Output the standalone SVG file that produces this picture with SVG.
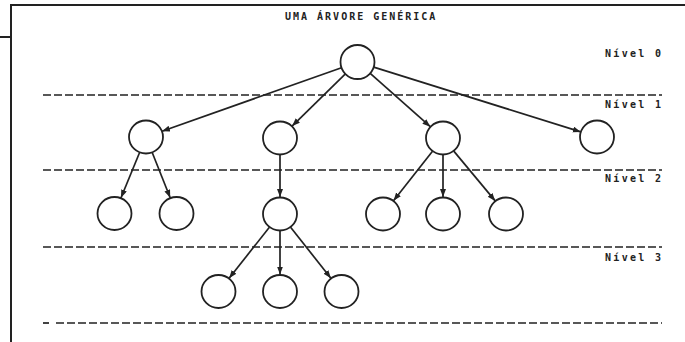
<svg xmlns="http://www.w3.org/2000/svg" width="685" height="342" viewBox="0 0 685 342">
<style>
.frame{stroke:#222;stroke-width:2;fill:none}
.dash{stroke:#222;stroke-width:1.7;stroke-dasharray:8 3;fill:none}
.node{fill:#fff;stroke:#222;stroke-width:1.8}
.edge{stroke:#222;stroke-width:1.7;fill:none;marker-end:url(#arr)}
.lbl{font-family:"DejaVu Sans Mono","Liberation Mono",monospace;font-weight:bold;font-size:10px;letter-spacing:2.3px;fill:#222}
.title{font-family:"DejaVu Sans Mono","Liberation Mono",monospace;font-weight:bold;font-size:10px;letter-spacing:2px;fill:#222}
</style>
<defs>
<marker id="arr" markerUnits="userSpaceOnUse" markerWidth="9" markerHeight="7" refX="8" refY="3" orient="auto">
<path d="M0,0 L8,3 L0,6 z" fill="#222"/>
</marker>
</defs>
<rect width="685" height="342" fill="#fff"/>
<g id="frame">
<line class="frame" x1="10" y1="5" x2="685" y2="5"/>
<line class="frame" x1="11" y1="4" x2="11" y2="342"/>
<line class="frame" x1="0" y1="37" x2="11" y2="37"/>
</g>
<text class="title" x="285" y="20">UMA ÁRVORE GENÉRICA</text>
<g id="levels">
<line class="dash" x1="43" y1="95" x2="662" y2="95"/>
<line class="dash" x1="43" y1="170" x2="662" y2="170"/>
<line class="dash" x1="43" y1="247" x2="662" y2="247"/>
<line class="dash" x1="43" y1="323" x2="49" y2="323"/>
<line class="dash" x1="56" y1="323" x2="662" y2="323"/>
<text class="lbl" x="605" y="57">Nível 0</text>
<text class="lbl" x="605" y="108">Nível 1</text>
<text class="lbl" x="605" y="182">Nível 2</text>
<text class="lbl" x="605" y="261">Nível 3</text>
</g>
<g id="connectors">
<line class="edge" x1="341.5" y1="67.7" x2="162" y2="131.3"/>
<line class="edge" x1="345.4" y1="73.9" x2="292.1" y2="126.1"/>
<line class="edge" x1="370.2" y1="73.3" x2="430.3" y2="126.7"/>
<line class="edge" x1="373.7" y1="67.1" x2="580.8" y2="131.9"/>
<line class="edge" x1="139.5" y1="152.7" x2="121" y2="197.8"/>
<line class="edge" x1="152.3" y1="152.8" x2="170.2" y2="197.7"/>
<line class="edge" x1="280" y1="155" x2="280" y2="197"/>
<line class="edge" x1="432.5" y1="151.3" x2="393.5" y2="200.7"/>
<line class="edge" x1="443" y1="155" x2="443" y2="197"/>
<line class="edge" x1="453.8" y1="151.1" x2="495.2" y2="200.9"/>
<line class="edge" x1="269.4" y1="227.3" x2="229.1" y2="278.2"/>
<line class="edge" x1="280" y1="231" x2="280" y2="274.5"/>
<line class="edge" x1="290.6" y1="227.3" x2="330.9" y2="278.2"/>
</g>
<g id="root"><ellipse class="node" cx="357.5" cy="62" rx="17" ry="17"/></g>
<g id="n1a"><ellipse class="node" cx="146" cy="137" rx="17" ry="16.5"/></g>
<g id="n1b"><ellipse class="node" cx="280" cy="138" rx="17" ry="16.5"/></g>
<g id="n1c"><ellipse class="node" cx="443" cy="138" rx="17" ry="16.5"/></g>
<g id="n1d"><ellipse class="node" cx="597" cy="137" rx="17" ry="16.5"/></g>
<g id="n2a1"><ellipse class="node" cx="114.5" cy="213.5" rx="17" ry="16.5"/></g>
<g id="n2a2"><ellipse class="node" cx="176.5" cy="213.5" rx="17" ry="16.5"/></g>
<g id="n2b1"><ellipse class="node" cx="280" cy="214" rx="17" ry="16.5"/></g>
<g id="n2c1"><ellipse class="node" cx="383" cy="214" rx="17" ry="16.5"/></g>
<g id="n2c2"><ellipse class="node" cx="443" cy="214" rx="17" ry="16.5"/></g>
<g id="n2c3"><ellipse class="node" cx="506" cy="214" rx="17" ry="16.5"/></g>
<g id="n3a"><ellipse class="node" cx="218.5" cy="291.5" rx="17" ry="16.5"/></g>
<g id="n3b"><ellipse class="node" cx="280" cy="291.5" rx="17" ry="16.5"/></g>
<g id="n3c"><ellipse class="node" cx="341.5" cy="291.5" rx="17" ry="16.5"/></g>
</svg>
